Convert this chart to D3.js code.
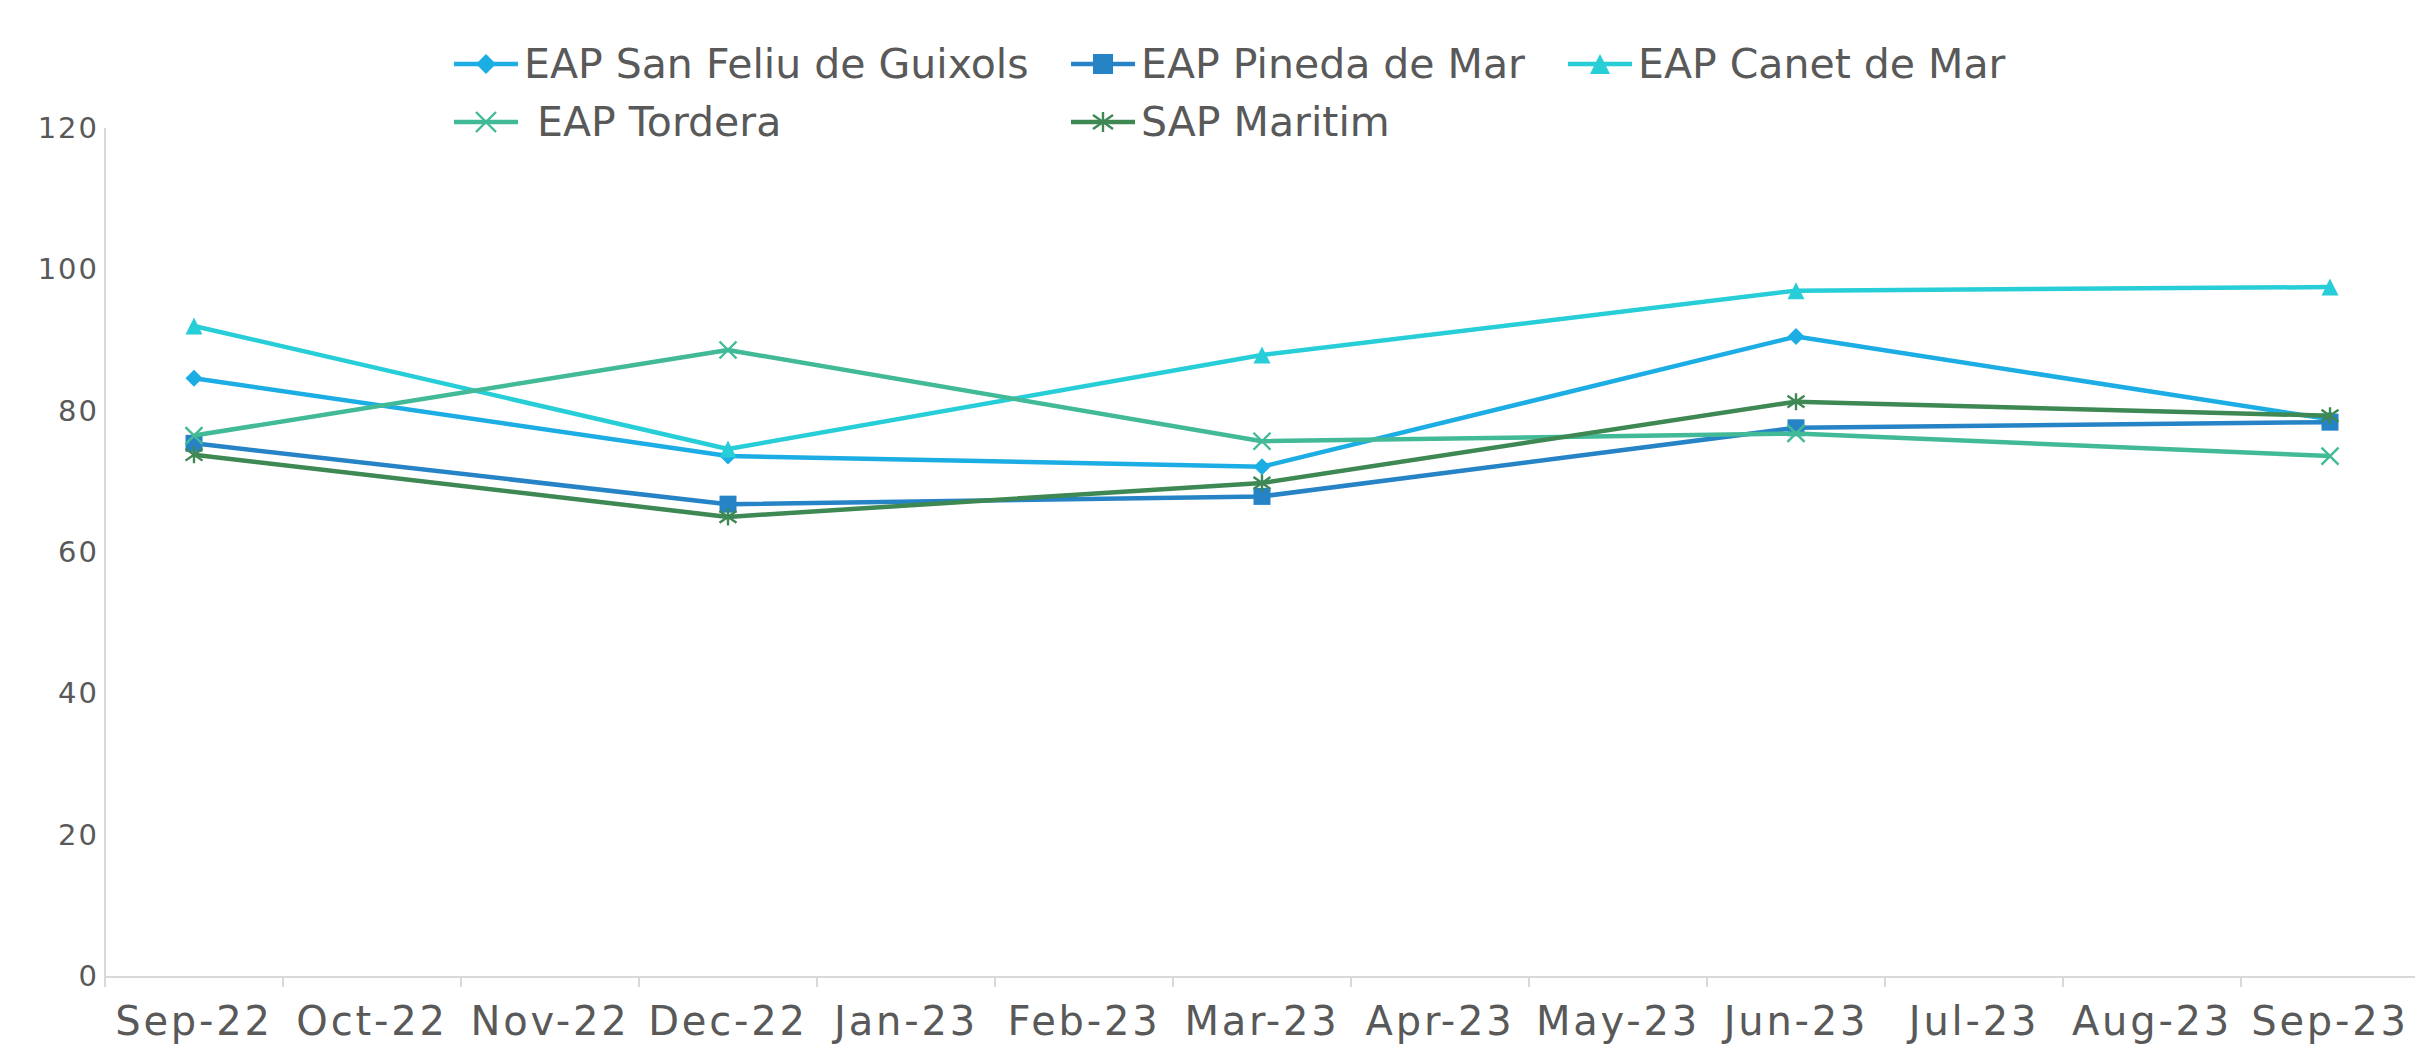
<!DOCTYPE html>
<html>
<head>
<meta charset="utf-8">
<script src="https://cdn.jsdelivr.net/npm/d3@7"></script>
<style>
html,body{margin:0;padding:0;background:#fff;}
svg{display:block;font-family:"DejaVu Sans",sans-serif;}
</style>
</head>
<body>
<svg id="chart" width="2415" height="1060"></svg>
<script>
const months = ["Sep-22","Oct-22","Nov-22","Dec-22","Jan-23","Feb-23","Mar-23","Apr-23","May-23","Jun-23","Jul-23","Aug-23","Sep-23"];
const yTicks = [0,20,40,60,80,100,120];
const seriesNames = ["EAP San Feliu de Guixols","EAP Pineda de Mar","EAP Canet de Mar"," EAP Tordera","SAP Maritim"];
const sanFeliu = [84.6,null,null,73.6,null,null,72.1,null,null,90.5,null,null,78.8];
const pineda   = [75.4,null,null,66.8,null,null,67.9,null,null,77.6,null,null,78.4];
const canet    = [92.0,null,null,74.6,null,null,87.9,null,null,97.0,null,null,97.5];
const tordera  = [76.5,null,null,88.6,null,null,75.7,null,null,76.8,null,null,73.6];
const maritim  = [73.8,null,null,65.0,null,null,69.8,null,null,81.3,null,null,79.3];
const seriesColors = ["#1CADE4","#2683C6","#27CED7","#42BA97","#3E8853"];
const seriesMarkers = ["diamond","square","triangle","x","star"];
const seriesValues = [sanFeliu,pineda,canet,tordera,maritim];

const svg = d3.select("#chart");
const x = d3.scaleBand().domain(months).range([105, 2419]).padding(0);
const y = d3.scaleLinear().domain([0,120]).range([976.5, 128]);
const cx = d => x(d) + x.bandwidth()/2;
const textColor = "#595959";
const axisColor = "#d9d9d9";

// Y axis
const yAxis = svg.append("g").attr("transform","translate(105,0)")
  .call(d3.axisLeft(y).tickValues(yTicks).tickSize(0).tickPadding(8));
yAxis.select(".domain").attr("stroke",axisColor).attr("stroke-width",2).attr("d","M0,128V986");
yAxis.selectAll("text").attr("fill",textColor).attr("font-size",29).attr("font-family","DejaVu Sans").attr("letter-spacing",2).attr("dx",2);

// X axis
const xAxis = svg.append("g").attr("transform","translate(0,976.5)")
  .call(d3.axisBottom(x).tickSize(0).tickPadding(30));
xAxis.select(".domain").attr("stroke",axisColor).attr("stroke-width",2);
xAxis.selectAll("text").attr("fill",textColor).attr("font-size",40).attr("font-family","DejaVu Sans").attr("letter-spacing",2.8);
// band boundary ticks
svg.append("g").selectAll("line").data(months).join("line")
  .attr("x1",d=>x(d)).attr("x2",d=>x(d)).attr("y1",976.5).attr("y2",987)
  .attr("stroke",axisColor).attr("stroke-width",2);

function drawMarker(g, type, color, s){
  const h = s/2;
  if(type==="diamond"){
    g.append("path").attr("d",`M0,${-h}L${h},0L0,${h}L${-h},0Z`).attr("fill",color);
  } else if(type==="square"){
    g.append("rect").attr("x",-h).attr("y",-h).attr("width",s).attr("height",s).attr("fill",color);
  } else if(type==="triangle"){
    g.append("path").attr("d",`M0,${-h}L${h},${h}L${-h},${h}Z`).attr("fill",color);
  } else if(type==="x"){
    g.append("path").attr("d",`M${-h},${-h}L${h},${h}M${-h},${h}L${h},${-h}`).attr("stroke",color).attr("stroke-width",2.4).attr("fill","none");
  } else if(type==="star"){
    g.append("path").attr("d",`M${-h},${-h*0.7}L${h},${h*0.7}M${-h},${h*0.7}L${h},${-h*0.7}M0,${-h}L0,${h}`).attr("stroke",color).attr("stroke-width",2.4).attr("fill","none");
  }
}

const line = d3.line().x(d=>cx(d.m)).y(d=>y(d.v));
seriesValues.forEach((vals,i)=>{
  const pts = months.map((m,j)=>({m, v: vals[j]})).filter(d=>d.v!==null);
  const g = svg.append("g");
  g.append("path").datum(pts).attr("d",line).attr("fill","none")
    .attr("stroke",seriesColors[i]).attr("stroke-width",4.5).attr("stroke-linejoin","round");
  pts.forEach(p=>{
    const mg = g.append("g").attr("transform",`translate(${cx(p.m)},${y(p.v)})`);
    drawMarker(mg, seriesMarkers[i], seriesColors[i], 17);
  });
});

// Legend
const legendPos = [[486,64],[1103,64],[1600,64],[486,122],[1103,122]];
seriesNames.forEach((name,i)=>{
  const [lx,ly] = legendPos[i];
  const g = svg.append("g").attr("transform",`translate(${lx},${ly})`);
  g.append("line").attr("x1",-32).attr("x2",32).attr("y1",0).attr("y2",0)
    .attr("stroke",seriesColors[i]).attr("stroke-width",4.5);
  drawMarker(g.append("g"), seriesMarkers[i], seriesColors[i], 20);
  g.append("text").attr("x",38).attr("y",0).attr("dy","0.35em")
    .attr("fill",textColor).attr("font-size",41).attr("xml:space","preserve")
    .style("white-space","pre").text(name);
});
</script>
</body>
</html>
